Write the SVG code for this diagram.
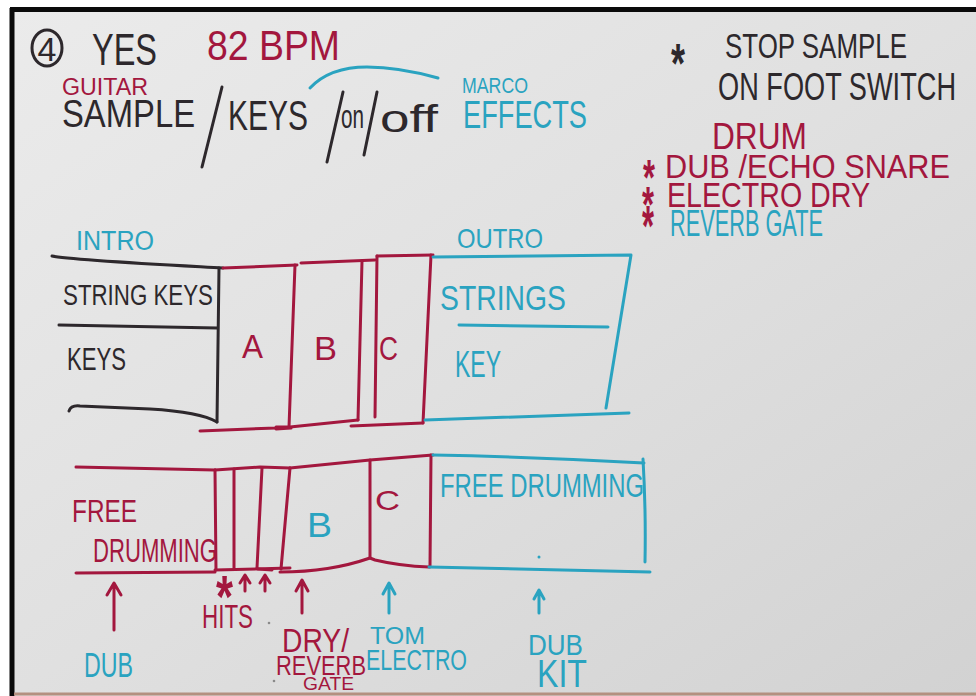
<svg xmlns="http://www.w3.org/2000/svg" width="976" height="696" viewBox="0 0 976 696">
  <defs>
    <linearGradient id="board" x1="0" y1="0" x2="1" y2="1">
      <stop offset="0" stop-color="#ebebeb"/>
      <stop offset="0.5" stop-color="#e0e0e0"/>
      <stop offset="1" stop-color="#d2d2d2"/>
    </linearGradient>
  </defs>
  <style>
    text { font-family: "Liberation Sans", Arial, sans-serif; }
    .tk { fill: #2d282c; }
    .tr { fill: #a3173e; }
    .tc { fill: #2aa3c0; }
    .lk, .lr, .lc { fill: none; stroke-width: 3; stroke-linecap: round; stroke-linejoin: round; }
    .lk { stroke: #2d282c; }
    .lr { stroke: #a3173e; }
    .lc { stroke: #2aa3c0; }
    .ast { font-weight: bold; }
  </style>

  <!-- board and frame -->
  <rect x="0" y="0" width="976" height="696" fill="#ffffff"/>
  <rect x="12" y="10" width="964" height="686" fill="url(#board)"/>
  <line x1="10" y1="9.5" x2="976" y2="9.5" stroke="#0a0a0a" stroke-width="5"/>
  <line x1="12" y1="8" x2="12" y2="696" stroke="#0a0a0a" stroke-width="5"/>
  <line x1="14" y1="694" x2="976" y2="694" stroke="#b49080" stroke-width="3"/>

  <!-- header -->
  <g id="title">
    <ellipse cx="47" cy="48" rx="15" ry="18" class="lk"/>
    <text x="47" y="61" font-size="34" text-anchor="middle" class="tk">4</text>
    <text x="92" y="65" font-size="44" textLength="65" lengthAdjust="spacingAndGlyphs" class="tk">YES</text>
    <text x="207" y="60" font-size="42" textLength="133" lengthAdjust="spacingAndGlyphs" class="tr">82 BPM</text>
  </g>

  <g id="guitar-controls">
    <text x="62" y="95" font-size="23" textLength="86" lengthAdjust="spacingAndGlyphs" class="tr">GUITAR</text>
    <text x="62" y="127" font-size="39" textLength="133" lengthAdjust="spacingAndGlyphs" class="tk">SAMPLE</text>
    <line x1="222" y1="87" x2="202" y2="167" class="lk"/>
    <text x="228" y="130" font-size="42" textLength="80" lengthAdjust="spacingAndGlyphs" class="tk">KEYS</text>
    <line x1="343" y1="92" x2="327" y2="162" class="lk"/>
    <text x="341" y="128" font-size="34" textLength="23" lengthAdjust="spacingAndGlyphs" class="tk">on</text>
    <line x1="377" y1="92" x2="364" y2="155" class="lk"/>
    <text x="380" y="132" font-size="38" textLength="58" lengthAdjust="spacingAndGlyphs" class="tk">off</text>
  </g>

  <g id="marco-effects">
    <path d="M310,88 C325,72 345,67 367,67 C395,67 420,73 438,78" class="lc"/>
    <text x="462" y="93" font-size="22" textLength="66" lengthAdjust="spacingAndGlyphs" class="tc">MARCO</text>
    <text x="463" y="128" font-size="38" textLength="124" lengthAdjust="spacingAndGlyphs" class="tc">EFFECTS</text>
  </g>

  <g id="foot-switch-note">
    <text x="671" y="82" font-size="56" textLength="14" lengthAdjust="spacingAndGlyphs" class="tk ast">*</text>
    <text x="725" y="58" font-size="35" textLength="182" lengthAdjust="spacingAndGlyphs" class="tk">STOP SAMPLE</text>
    <text x="718" y="100" font-size="39" textLength="238" lengthAdjust="spacingAndGlyphs" class="tk">ON FOOT SWITCH</text>
  </g>

  <g id="drum-list">
    <text x="712" y="149" font-size="36" textLength="95" lengthAdjust="spacingAndGlyphs" class="tr">DRUM</text>
    <text x="643" y="195" font-size="50" textLength="12" lengthAdjust="spacingAndGlyphs" class="tr ast">*</text>
    <text x="665" y="178" font-size="33" textLength="285" lengthAdjust="spacingAndGlyphs" class="tr">DUB /ECHO SNARE</text>
    <text x="642" y="222" font-size="50" textLength="12" lengthAdjust="spacingAndGlyphs" class="tr ast">*</text>
    <text x="667" y="207" font-size="35" textLength="203" lengthAdjust="spacingAndGlyphs" class="tr">ELECTRO DRY</text>
    <text x="642" y="246" font-size="58" textLength="12" lengthAdjust="spacingAndGlyphs" class="tr ast">*</text>
    <text x="670" y="236" font-size="36" textLength="153" lengthAdjust="spacingAndGlyphs" class="tc">REVERB GATE</text>
  </g>

  <!-- upper track: keys -->
  <g id="intro">
    <text x="76" y="250" font-size="27" textLength="78" lengthAdjust="spacingAndGlyphs" class="tc">INTRO</text>
    <path d="M52,256 C70,260 150,264 223,268" class="lk"/>
    <path d="M219,268 L217,422" class="lk"/>
    <path d="M59,325 L217,328" class="lk"/>
    <path d="M69,411 Q71,405 80,406 L150,409 Q200,412 217,422" class="lk"/>
    <text x="63" y="305" font-size="30" textLength="150" lengthAdjust="spacingAndGlyphs" class="tk">STRING KEYS</text>
    <text x="67" y="370" font-size="32" textLength="59" lengthAdjust="spacingAndGlyphs" class="tk">KEYS</text>
  </g>

  <g id="sections-abc">
    <path d="M223,268 L297,265 M301,263 L375,260 M377,256 L433,255" class="lr"/>
    <path d="M295,265 L289,427" class="lr"/>
    <path d="M362,261 L358,420" class="lr"/>
    <path d="M377,256 L375,417" class="lr"/>
    <path d="M431,255 L423,423" class="lr"/>
    <path d="M200,431 L276,428 M276,427 L290,427 M290,427 L358,420 M351,426 L423,423" class="lr"/>
    <path d="M276,429 L291,428" class="lr" stroke-width="5"/>
    <text x="242" y="358" font-size="33" textLength="21" lengthAdjust="spacingAndGlyphs" class="tr">A</text>
    <text x="314" y="360" font-size="33" textLength="23" lengthAdjust="spacingAndGlyphs" class="tr">B</text>
    <text x="379" y="360" font-size="33" textLength="19" lengthAdjust="spacingAndGlyphs" class="tr">C</text>
  </g>

  <g id="outro">
    <text x="457" y="248" font-size="28" textLength="86" lengthAdjust="spacingAndGlyphs" class="tc">OUTRO</text>
    <path d="M433,257 L631,255 L606,408" class="lc"/>
    <path d="M459,325 L608,327" class="lc"/>
    <path d="M425,420 L629,413" class="lc"/>
    <text x="440" y="310" font-size="35" textLength="126" lengthAdjust="spacingAndGlyphs" class="tc">STRINGS</text>
    <text x="455" y="377" font-size="36" textLength="46" lengthAdjust="spacingAndGlyphs" class="tc">KEY</text>
  </g>

  <!-- lower track: drums -->
  <g id="free-drumming-start">
    <path d="M76,467 L215,470" class="lr"/>
    <path d="M76,573 L215,572" class="lr"/>
    <text x="72" y="522" font-size="31" textLength="65" lengthAdjust="spacingAndGlyphs" class="tr">FREE</text>
    <text x="93" y="562" font-size="34" textLength="124" lengthAdjust="spacingAndGlyphs" class="tr">DRUMMING</text>
  </g>

  <g id="hits">
    <path d="M215,470 L260,467 L290,468" class="lr"/>
    <path d="M215,570 L290,568" class="lr"/>
    <path d="M215,470 L216,570" class="lr"/>
    <path d="M234,469 L234,568" class="lr"/>
    <path d="M262,468 L257,568" class="lr"/>
    <path d="M290,468 L281,569" class="lr"/>
    <path d="M258,569 L272,570" class="lr" stroke-width="5"/>
  </g>

  <g id="section-b-c-drums">
    <path d="M290,468 L370,460 L433,455" class="lr"/>
    <path d="M280,572 Q330,572 370,558 L375,560 Q400,566 429,567" class="lr"/>
    <path d="M370,460 L370,558" class="lr"/>
    <path d="M431,455 L430,567" class="lr"/>
    <text x="307" y="537" font-size="35" textLength="25" lengthAdjust="spacingAndGlyphs" class="tc">B</text>
    <text x="375" y="510" font-size="28" textLength="25" lengthAdjust="spacingAndGlyphs" class="tr">C</text>
  </g>

  <g id="free-drumming-end">
    <path d="M433,455 Q540,457 644,463" class="lc"/>
    <path d="M643,459 Q646,510 645,562" class="lc"/>
    <path d="M429,567 L650,572" class="lc"/>
    <text x="440" y="497" font-size="33" textLength="204" lengthAdjust="spacingAndGlyphs" class="tc">FREE DRUMMING</text>
    <circle cx="539" cy="557" r="1.5" fill="#2aa3c0"/>
  </g>

  <!-- pointers under the drum track -->
  <g id="connectors">
    <path d="M114,630 L114,584 M107,595 L114,583 L121,595" class="lr"/>
    <path d="M245,591 L245,576 M240,583 L245,575 L250,583" class="lr"/>
    <path d="M265,591 L265,576 M260,583 L265,575 L270,583" class="lr"/>
    <path d="M302,613 L302,581 M296,591 L302,580 L308,591" class="lr"/>
    <path d="M389,613 L389,584 M383,594 L389,583 L395,594" class="lc"/>
    <path d="M539,613 L539,591 M534,599 L539,590 L544,599" class="lc"/>
  </g>

  <g id="labels">
    <text x="84" y="677" font-size="35" textLength="49" lengthAdjust="spacingAndGlyphs" class="tc">DUB</text>
    <text x="216" y="617" font-size="60" textLength="17" lengthAdjust="spacingAndGlyphs" class="tr ast">*</text>
    <text x="202" y="628" font-size="34" textLength="51" lengthAdjust="spacingAndGlyphs" class="tr">HITS</text>
    <circle cx="269" cy="623" r="1.3" fill="#8a8a8a"/>
    <text x="282" y="652" font-size="34" textLength="67" lengthAdjust="spacingAndGlyphs" class="tr">DRY/</text>
    <text x="276" y="675" font-size="28" textLength="90" lengthAdjust="spacingAndGlyphs" class="tr">REVERB</text>
    <text x="303" y="690" font-size="18" textLength="51" lengthAdjust="spacingAndGlyphs" class="tr">GATE</text>
    <circle cx="274" cy="681" r="1.3" fill="#8a8a8a"/>
    <text x="370" y="644" font-size="24" textLength="55" lengthAdjust="spacingAndGlyphs" class="tc">TOM</text>
    <text x="366" y="670" font-size="30" textLength="101" lengthAdjust="spacingAndGlyphs" class="tc">ELECTRO</text>
    <text x="528" y="655" font-size="30" textLength="55" lengthAdjust="spacingAndGlyphs" class="tc">DUB</text>
    <text x="537" y="687" font-size="38" textLength="50" lengthAdjust="spacingAndGlyphs" class="tc">KIT</text>
  </g>
</svg>
